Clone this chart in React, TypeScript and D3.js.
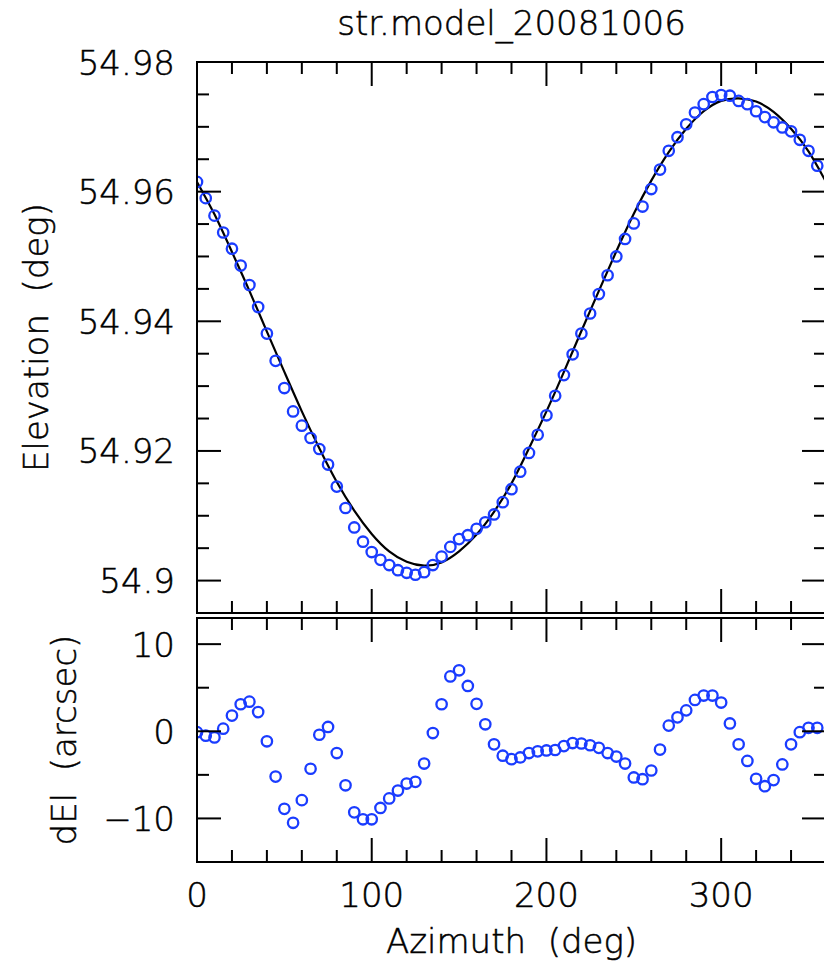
import React from "react";
import * as d3 from "d3";

// ---- data ----
const azimuth: number[] = d3.range(0, 360, 5); // 0..355 every 5 deg
const elevation: number[] = [
  54.9615, 54.959, 54.9563, 54.9537, 54.9512, 54.9486, 54.9456, 54.9422, 54.9381, 54.9339,
  54.9297, 54.9261, 54.9239, 54.922, 54.9203, 54.9179, 54.9145, 54.9112, 54.9082, 54.906,
  54.9044, 54.9032, 54.9024, 54.9016, 54.9012, 54.9009, 54.9013, 54.9024, 54.9037, 54.9052,
  54.9064, 54.907, 54.908, 54.909, 54.9102, 54.9121, 54.9141, 54.9168, 54.9197, 54.9225,
  54.9255, 54.9285, 54.9317, 54.9349, 54.9381, 54.9412, 54.9442, 54.9471, 54.95, 54.9527,
  54.9551, 54.9577, 54.9604, 54.9634, 54.9663, 54.9684, 54.9704, 54.9722, 54.9735, 54.9746,
  54.9749, 54.9748, 54.974, 54.9735, 54.9724, 54.9715, 54.9707, 54.9699, 54.9693, 54.968,
  54.9663, 54.964,
];
const dEl: number[] = [
  -0.1, -0.5, -0.7, 0.3, 1.8, 3.1, 3.4, 2.2, -1.15, -5.2,
  -8.9, -10.5, -7.9, -4.3, -0.4, 0.5, -2.5, -6.2, -9.3, -10.1,
  -10.1, -8.8, -7.7, -6.8, -6.0, -5.8, -3.7, -0.2, 3.1, 6.3,
  7.0, 5.2, 3.15, 0.8, -1.5, -2.8, -3.2, -3.0, -2.5, -2.3,
  -2.2, -2.15, -1.7, -1.35, -1.4, -1.6, -1.9, -2.5, -2.9, -3.7,
  -5.3, -5.5, -4.5, -2.1, 0.65, 1.6, 2.4, 3.6, 4.1, 4.1,
  3.3, 0.9, -1.5, -3.4, -5.45, -6.3, -5.6, -3.8, -1.5, -0.1,
  0.4, 0.4,
];
const modelAz: number[] = d3.range(0, 361, 10);
const modelEl: number[] = [
  54.9615, 54.9565, 54.9507, 54.9447, 54.9384, 54.9322, 54.9261, 54.9204, 54.9152, 54.9108,
  54.9072, 54.9045, 54.9029, 54.9023, 54.9028, 54.9045, 54.9071, 54.9106, 54.915, 54.9204,
  54.9261, 54.9322, 54.9385, 54.9447, 54.9508, 54.9566, 54.9617, 54.9661, 54.9697, 54.9724,
  54.974, 54.9744, 54.9739, 54.9723, 54.9697, 54.9662, 54.9615,
];
const xMajorTicks: number[] = [0, 100, 200, 300];
const topMajorTicks: number[] = [54.9, 54.92, 54.94, 54.96, 54.98];
const botMajorTicks: number[] = [-10, 0, 10];
const title = "str.model_20081006";

// ---- layout ----
const W = 824, H = 966;
const L = 197, R = 826;
const T1 = 62, B1 = 613, T2 = 618, B2 = 862;
const FONT = "'DejaVu Sans', sans-serif";
const FS = 34;
const BLUE = "#1a3cff";
const MAJ = 24, MIN = 12;

export default function App() {
  const x = d3.scaleLinear().domain([0, 360]).range([L, R]);
  const y1 = d3.scaleLinear().domain([54.895, 54.98]).range([B1, T1]);
  const y2 = d3.scaleLinear().domain([-15, 13]).range([B2, T2]);

  const xMinor = d3.range(0, 361, 20).filter((v) => v % 100 !== 0);
  const xMajorAll = [0, 100, 200, 300];
  const y1Minor = d3.range(0, 17).map((i) => +(54.9 + i * 0.005).toFixed(3)).filter((v) => Math.round(v * 1000) % 20 !== 0);
  const y2Minor = [-5, 5];

  const line = d3
    .line<number>()
    .x((_, i) => x(modelAz[i]))
    .y((d) => y1(d))
    .curve(d3.curveNatural);

  const stroke = { stroke: "#000", strokeWidth: 2, fill: "none" } as const;

  const xTicks = (top: number, bottom: number, key: string) => (
    <g key={key}>
      {xMajorAll.map((v) => (
        <g key={"M" + v}>
          <line x1={x(v)} x2={x(v)} y1={top} y2={top + MAJ} {...stroke} />
          <line x1={x(v)} x2={x(v)} y1={bottom} y2={bottom - MAJ} {...stroke} />
        </g>
      ))}
      {xMinor.map((v) => (
        <g key={"m" + v}>
          <line x1={x(v)} x2={x(v)} y1={top} y2={top + MIN} {...stroke} />
          <line x1={x(v)} x2={x(v)} y1={bottom} y2={bottom - MIN} {...stroke} />
        </g>
      ))}
    </g>
  );

  const yTicks = (scale: d3.ScaleLinear<number, number>, major: number[], minor: number[], key: string) => (
    <g key={key}>
      {major.map((v) => (
        <g key={"M" + v}>
          <line x1={L} x2={L + MAJ} y1={scale(v)} y2={scale(v)} {...stroke} />
          <line x1={R} x2={R - MAJ} y1={scale(v)} y2={scale(v)} {...stroke} />
        </g>
      ))}
      {minor.map((v) => (
        <g key={"m" + v}>
          <line x1={L} x2={L + MIN} y1={scale(v)} y2={scale(v)} {...stroke} />
          <line x1={R} x2={R - MIN} y1={scale(v)} y2={scale(v)} {...stroke} />
        </g>
      ))}
    </g>
  );

  const fmtTop = (v: number) => (Math.abs(v - 54.9) < 1e-9 ? "54.9" : v.toFixed(2));
  const fmtBot = (v: number) => (v < 0 ? "\u2212" + Math.abs(v) : String(v));

  const textStyle = { fill: "#000", stroke: "#000", strokeWidth: 0.5 } as const;

  return (
    <svg
      width={W}
      height={H}
      style={{ position: "absolute", left: 0, top: 0, background: "#fff" }}
      fontFamily={FONT}
      fontWeight={300}
    >
      <defs>
        <clipPath id="c1">
          <rect x={L} y={T1} width={R - L} height={B1 - T1} />
        </clipPath>
        <clipPath id="c2">
          <rect x={L} y={T2} width={R - L} height={B2 - T2} />
        </clipPath>
      </defs>
      <rect x={0} y={0} width={W} height={H} fill="#fff" />

      <g {...textStyle}>
        <text x={(L + R) / 2} y={35} fontSize={FS} textAnchor="middle">
          {title}
        </text>
        {topMajorTicks.map((v) => (
          <text key={"t" + v} x={175} y={y1(v) + 12.5} fontSize={FS} textAnchor="end">
            {fmtTop(v)}
          </text>
        ))}
        {botMajorTicks.map((v) => (
          <text key={"b" + v} x={175} y={y2(v) + 12.5} fontSize={FS} textAnchor="end">
            {fmtBot(v)}
          </text>
        ))}
        {xMajorTicks.map((v) => (
          <text key={"x" + v} x={x(v)} y={907} fontSize={FS} textAnchor="middle">
            {v}
          </text>
        ))}
        <text x={(L + R) / 2} y={953} fontSize={FS} textAnchor="middle" style={{ whiteSpace: "pre" }}>
          {"Azimuth  (deg)"}
        </text>
        <text
          transform={`translate(48,${(T1 + B1) / 2}) rotate(-90)`}
          fontSize={FS}
          textAnchor="middle"
          style={{ whiteSpace: "pre" }}
        >
          {"Elevation  (deg)"}
        </text>
        <text
          transform={`translate(76,${(T2 + B2) / 2}) rotate(-90)`}
          fontSize={FS}
          textAnchor="middle"
          style={{ whiteSpace: "pre" }}
        >
          {"dEl  (arcsec)"}
        </text>
      </g>

      {/* top panel */}
      <g clipPath="url(#c1)">
        <path d={line(modelEl) || ""} stroke="#000" strokeWidth={2.2} fill="none" />
        {elevation.map((v, i) => (
          <circle key={i} cx={x(azimuth[i])} cy={y1(v)} r={5.2} fill="none" stroke={BLUE} strokeWidth={2.3} />
        ))}
      </g>
      <rect x={L} y={T1} width={R - L} height={B1 - T1} {...stroke} />
      {xTicks(T1, B1, "xt1")}
      {yTicks(y1, topMajorTicks, y1Minor, "yt1")}

      {/* bottom panel */}
      <g clipPath="url(#c2)">
        {dEl.map((v, i) => (
          <circle key={i} cx={x(azimuth[i])} cy={y2(v)} r={5.2} fill="none" stroke={BLUE} strokeWidth={2.3} />
        ))}
      </g>
      <rect x={L} y={T2} width={R - L} height={B2 - T2} {...stroke} />
      {xTicks(T2, B2, "xt2")}
      {yTicks(y2, botMajorTicks, y2Minor, "yt2")}
    </svg>
  );
}
